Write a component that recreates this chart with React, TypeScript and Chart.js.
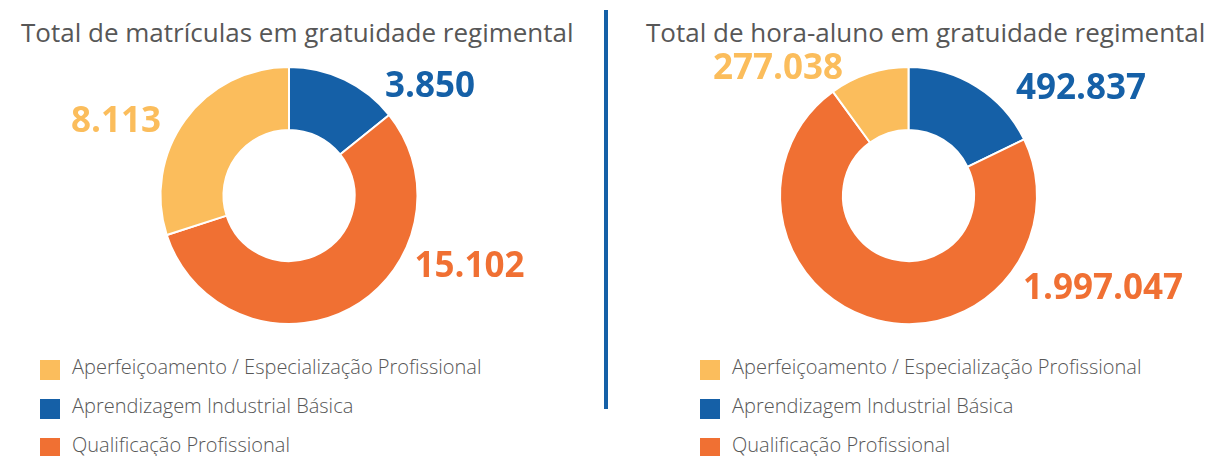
import React, { useEffect, useRef } from "react";
import { Chart, registerables } from "chart.js";

Chart.register(...registerables);

// ---------- data ----------
const categories = [
  "Aperfeiçoamento / Especialização Profissional",
  "Aprendizagem Industrial Básica",
  "Qualificação Profissional",
];
const categoryColors = ["#FBBD5C", "#1560A7", "#F07033"];
const matriculas = [8113, 3850, 15102];
const horaAluno = [277038, 492837, 1997047];
const titles = [
  "Total de matrículas em gratuidade regimental",
  "Total de hora-aluno em gratuidade regimental",
];
// order in which the slices are drawn clockwise from the top
const drawOrder = [1, 2, 0];

// ---------- layout / style ----------
const FONT = "'Open Sans', 'DejaVu Sans', sans-serif";
const TEXT_GRAY = "#575757";
// label anchors relative to the doughnut centre, in units of outer radius
const LABEL_LAYOUT = [
  [
    { dx: -0.996, dy: -0.494, align: "right" },
    { dx: 0.747, dy: -0.767, align: "left" },
    { dx: 0.977, dy: 0.634, align: "left" },
  ],
  [
    { dx: -0.51, dy: -0.907, align: "right" },
    { dx: 0.837, dy: -0.751, align: "left" },
    { dx: 0.891, dy: 0.805, align: "left" },
  ],
];
const PANELS = [
  { left: 0, width: 600, padLeft: 22, padRight: 44, titleLeft: 21, legendLeft: 40 },
  { left: 610, width: 595, padLeft: 36, padRight: 34, titleLeft: 646, legendLeft: 700 },
];

const fmt = (n: number) => String(n).replace(/\B(?=(\d{3})+(?!\d))/g, ".");

function DonutPanel({ idx, values }: { idx: number; values: number[] }) {
  const ref = useRef<HTMLCanvasElement | null>(null);
  const panel = PANELS[idx];

  useEffect(() => {
    if (!ref.current) return;
    const labelPlugin = {
      id: "valueLabels",
      afterDatasetsDraw(chart: any) {
        const meta = chart.getDatasetMeta(0);
        const ctx = chart.ctx;
        ctx.save();
        ctx.font = `bold 35px ${FONT}`;
        ctx.textBaseline = "alphabetic";
        meta.data.forEach((arc: any, i: number) => {
          const cat = drawOrder[i];
          const lay = LABEL_LAYOUT[idx][cat];
          const r = arc.outerRadius;
          ctx.fillStyle = categoryColors[cat];
          ctx.textAlign = lay.align;
          ctx.fillText(fmt(values[cat]), arc.x + lay.dx * r, arc.y + lay.dy * r);
        });
        ctx.restore();
      },
    };
    const chart = new Chart(ref.current, {
      type: "doughnut",
      data: {
        labels: drawOrder.map((c) => categories[c]),
        datasets: [
          {
            data: drawOrder.map((c) => values[c]),
            backgroundColor: drawOrder.map((c) => categoryColors[c]),
            borderColor: "#ffffff",
            borderWidth: 2,
            hoverBorderWidth: 2,
          },
        ],
      },
      options: {
        animation: false,
        responsive: false,
        maintainAspectRatio: false,
        radius: 128.5,
        cutout: "51%",
        layout: {
          padding: { left: panel.padLeft, right: panel.padRight, top: 60, bottom: 9 },
        },
        plugins: {
          legend: { display: false },
          tooltip: { enabled: false },
          title: { display: false },
        },
      } as any,
      plugins: [labelPlugin],
    });
    return () => chart.destroy();
  }, [idx, values]);

  return (
    <>
      <div
        style={{
          position: "absolute",
          left: panel.titleLeft,
          top: 19,
          fontFamily: FONT,
          fontSize: 26,
          lineHeight: "26px",
          color: TEXT_GRAY,
          whiteSpace: "nowrap",
        }}
      >
        {titles[idx]}
      </div>
      <canvas
        ref={ref}
        width={panel.width}
        height={340}
        style={{ position: "absolute", left: panel.left, top: 0, width: panel.width, height: 340 }}
      />
      <div style={{ position: "absolute", left: panel.legendLeft, top: 360 }}>
        {categories.map((c, i) => (
          <div
            key={c}
            style={{ display: "flex", alignItems: "center", height: 20, marginBottom: 19 }}
          >
            <div style={{ width: 20, height: 20, background: categoryColors[i], flex: "none" }} />
            <div
              style={{
                marginLeft: 12,
                fontFamily: FONT,
                fontSize: 20,
                fontWeight: 300,
                color: TEXT_GRAY,
                lineHeight: "20px",
                whiteSpace: "nowrap",
                position: "relative",
                top: -3,
              }}
            >
              {c}
            </div>
          </div>
        ))}
      </div>
    </>
  );
}

export default function App() {
  return (
    <div
      style={{
        position: "absolute",
        left: 0,
        top: 0,
        width: 1205,
        height: 456,
        background: "#ffffff",
        overflow: "hidden",
      }}
    >
      <DonutPanel idx={0} values={matriculas} />
      <div
        style={{ position: "absolute", left: 604, top: 10, width: 4, height: 399, background: "#1560A7" }}
      />
      <DonutPanel idx={1} values={horaAluno} />
    </div>
  );
}
